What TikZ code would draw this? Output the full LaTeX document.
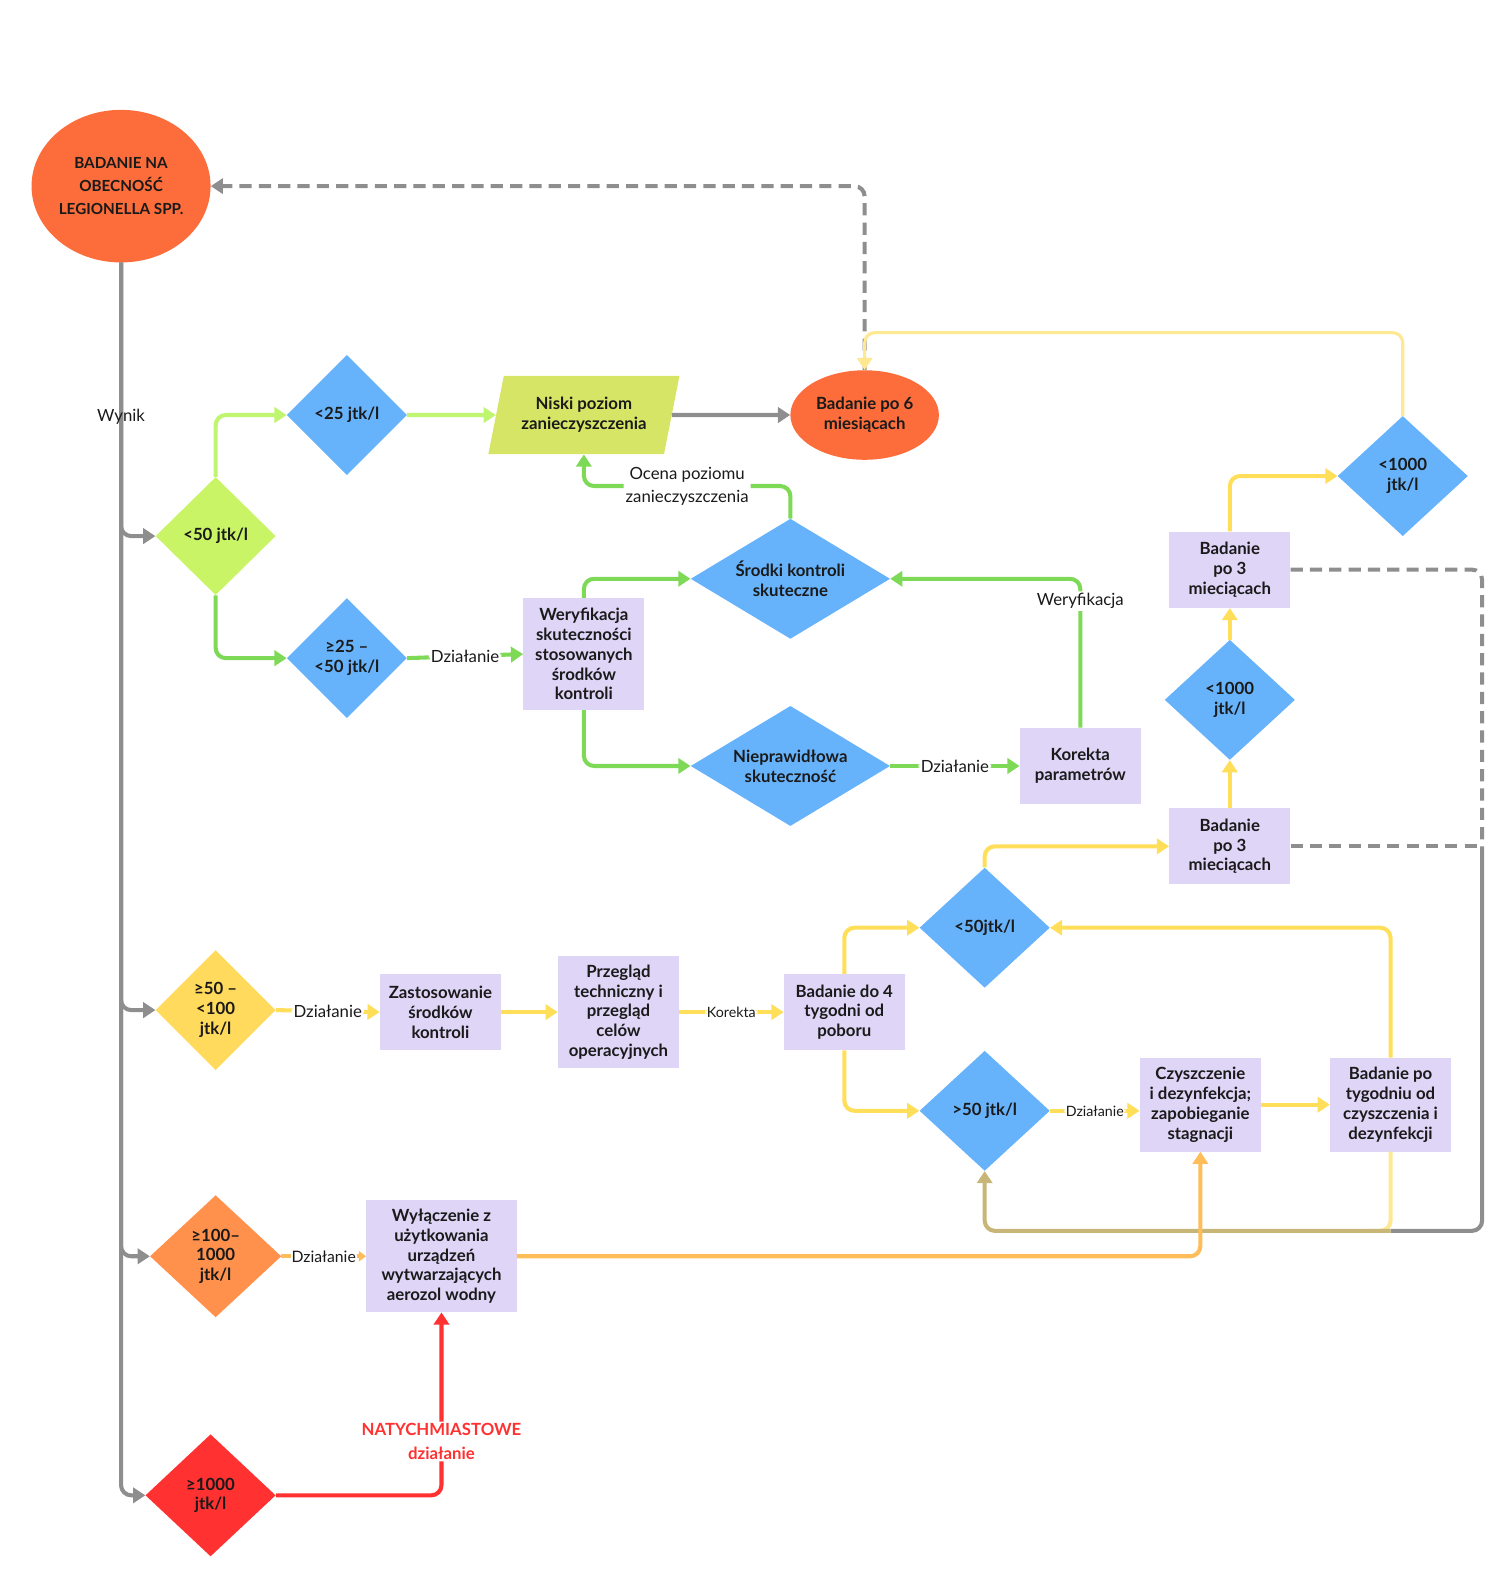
\documentclass[tikz,border=0pt]{standalone}
\usepackage{fontspec}
\setmainfont{Lato}
\usetikzlibrary{shapes.geometric,arrows.meta,calc}
\definecolor{orng}{HTML}{FC6D3B}
\definecolor{blu}{HTML}{66B3FC}
\definecolor{lav}{HTML}{DED5F7}
\definecolor{limec}{HTML}{C9F465}
\definecolor{parac}{HTML}{D6E565}
\definecolor{ydia}{HTML}{FFDA5C}
\definecolor{odia}{HTML}{FF914D}
\definecolor{rdia}{HTML}{FF3131}
\definecolor{gline}{HTML}{8E8E8E}
\definecolor{lgreen}{HTML}{BFF56F}
\definecolor{grn}{HTML}{7ED957}
\definecolor{yel}{HTML}{FFDE59}
\definecolor{paley}{HTML}{FFE892}
\definecolor{orl}{HTML}{FFBD59}
\definecolor{redl}{HTML}{FF3131}
\definecolor{khaki}{HTML}{C7B677}
\definecolor{txt}{HTML}{1A1A1A}
\newcommand\boxf{\fontsize{16.5}{19.5}\selectfont\bfseries}
\newcommand\ellf{\fontsize{15}{22.5}\selectfont\bfseries}
\newcommand\lblf{\fontsize{16.5}{23}\selectfont}
\newcommand\midf{\fontsize{15.5}{18}\selectfont}
\newcommand\smlf{\fontsize{14}{16}\selectfont}
\begin{document}
\begin{tikzpicture}[x=1pt,y=-1pt,
  tip/.tip={Triangle[length=12pt,width=15pt]},
  stip/.tip={Triangle[length=7pt,width=10pt]},
  conn/.style={line width=4pt, rounded corners=10pt, -tip},
  plain/.style={line width=4pt, rounded corners=10pt},
  boxn/.style={rectangle, fill=lav, text=txt, font=\boxf, align=center, inner sep=1pt},
  dia/.style={diamond, fill=blu, text=txt, font=\boxf, align=center, inner sep=0pt},
  lbl/.style={fill=white, text=txt, font=\lblf, inner sep=2pt, align=center},
  slbl/.style={fill=white, text=txt, font=\smlf, inner sep=1.5pt},
  dsh/.style={dash pattern=on 12pt off 7pt}]
\useasboundingbox (0,0) rectangle (1479,1568);

% nodes
\node[ellipse, fill=orng, minimum width=176pt, minimum height=150pt, inner xsep=-10pt, inner ysep=0pt, font=\ellf, align=center, text=txt] (start) at (119,183) {BADANIE NA\\OBECNOŚĆ\\LEGIONELLA SPP.};
\node[ellipse, fill=orng, minimum width=146pt, minimum height=88pt, inner sep=0pt, font=\boxf, align=center, text=txt] (bad6) at (850,408) {Badanie po 6\\miesiącach};
\node[trapezium, trapezium left angle=71, trapezium right angle=109, trapezium stretches=true, fill=parac, minimum width=188pt, minimum height=77pt, inner sep=0pt, font=\boxf, align=center, text=txt] (niski) at (574,408) {Niski poziom\\zanieczyszczenia};

\node[dia, fill=limec, aspect=1.02, minimum width=118pt, minimum height=116pt] (lt50) at (212,527) {<50 jtk/l};
\node[dia, minimum width=118pt, minimum height=118pt] (lt25) at (341,408) {<25 jtk/l};
\node[dia, minimum width=118pt, minimum height=118pt] (r25) at (341,647) {≥25 –\\<50 jtk/l};
\node[dia, aspect=1.66, minimum width=196pt, minimum height=118pt] (srodki) at (777,569) {Środki kontroli\\skuteczne};
\node[dia, aspect=1.66, minimum width=196pt, minimum height=118pt] (niepr) at (777,753) {Nieprawidłowa\\skuteczność};
\node[boxn, minimum width=119pt, minimum height=110pt] (wer) at (574,643) {Weryfikacja\\skuteczności\\stosowanych\\środków\\kontroli};
\node[boxn, minimum width=119pt, minimum height=75pt] (korekta) at (1062,753) {Korekta\\parametrów};

\node[dia, aspect=1.08, minimum width=128pt, minimum height=118pt] (d1000b) at (1379,468) {<1000\\jtk/l};
\node[boxn, minimum width=119pt, minimum height=75pt] (b3up) at (1209,560) {Badanie\\po 3\\mieciącach};
\node[dia, aspect=1.08, minimum width=128pt, minimum height=118pt] (d1000a) at (1209,688) {<1000\\jtk/l};
\node[boxn, minimum width=119pt, minimum height=75pt] (b3low) at (1209,832) {Badanie\\po 3\\mieciącach};
\node[dia, aspect=1.08, minimum width=128pt, minimum height=118pt] (d50a) at (968,912) {<50jtk/l};
\node[dia, aspect=1.08, minimum width=128pt, minimum height=118pt] (d50b) at (968,1092) {>50 jtk/l};
\node[boxn, minimum width=119pt, minimum height=92pt] (czysz) at (1180,1086) {Czyszczenie\\i dezynfekcja;\\zapobieganie\\stagnacji};
\node[boxn, minimum width=119pt, minimum height=92pt] (tyg) at (1367,1086) {Badanie po\\tygodniu od\\czyszczenia i\\dezynfekcji};

\node[dia, fill=ydia, minimum width=118pt, minimum height=118pt] (y50) at (212,993) {≥50 –\\<100\\jtk/l};
\node[boxn, minimum width=119pt, minimum height=75pt] (zast) at (433,995) {Zastosowanie\\środków\\kontroli};
\node[boxn, minimum width=119pt, minimum height=110pt] (przeg) at (608,995) {Przegląd\\techniczny i\\przegląd\\celów\\operacyjnych};
\node[boxn, minimum width=119pt, minimum height=75pt] (bad4) at (830,995) {Badanie do 4\\tygodni od\\poboru};

\node[dia, fill=odia, aspect=1.07, minimum width=129pt, minimum height=120pt] (o100) at (212,1235) {≥100–\\1000\\jtk/l};
\node[boxn, minimum width=148pt, minimum height=110pt] (wyl) at (434,1235) {Wyłączenie z\\użytkowania\\urządzeń\\wytwarzających\\aerozol wodny};
\node[dia, fill=rdia, aspect=1.07, minimum width=128pt, minimum height=120pt] (r1000) at (207,1470) {≥1000\\jtk/l};

\coordinate (ytop) at (0,327);
\coordinate (rx) at (1457,0);
\coordinate (bot) at (0,1210);

% gray trunk
\draw[conn, gline] (start.south) |- (lt50.west);
\draw[conn, gline] (start.south) |- (y50.west);
\draw[conn, gline] (start.south) |- (o100.west);
\draw[conn, gline] (start.south) |- (r1000.west);
\path (start.south) -- node[pos=0.125, font=\lblf, text=txt] {Wynik} (start.south |- r1000.west);

% dashed return
\draw[conn, gline, dsh] (bad6.north) |- (start.east);
\draw[conn, paley, line width=3pt] (d1000b.north) |- (ytop -| bad6.north) -- (bad6.north);
\draw[conn, gline] (niski.east) -- (bad6.west);

% green section
\draw[conn, lgreen] (lt50.north) |- (lt25.west);
\draw[conn, lgreen] (lt25.east) -- (niski.west);
\draw[conn, grn] (lt50.south) |- (r25.west);
\draw[conn, grn] (r25.east) -- node[lbl]{Działanie} (wer.west);
\draw[conn, grn] (wer.north) |- (srodki.west);
\draw[conn, grn] (wer.south) |- (niepr.west);
\draw[conn, grn] (niepr.east) -- node[lbl]{Działanie} (korekta.west);
\draw[conn, grn] (korekta.north) |- node[lbl, pos=0.425]{Weryfikacja} (srodki.east);
\draw[conn, grn] (srodki.north) -- ++(0,-32) -| node[lbl, pos=0.25]{Ocena poziomu\\zanieczyszczenia} (niski.south);

% yellow section
\draw[conn, yel] (y50.east) -- node[lbl]{Działanie} (zast.west);
\draw[conn, yel] (zast.east) -- (przeg.west);
\draw[conn, yel] (przeg.east) -- node[slbl]{Korekta} (bad4.west);
\draw[conn, yel] (bad4.north) |- (d50a.west);
\draw[conn, yel] (bad4.south) |- (d50b.west);
\draw[conn, yel] (d50a.north) |- (b3low.west);
\draw[conn, yel] (b3low.north) -- (d1000a.south);
\draw[conn, yel] (d1000a.north) -- (b3up.south);
\draw[conn, yel] (b3up.north) |- (d1000b.west);
\draw[conn, yel] (d50b.east) -- node[slbl]{Działanie} (d50b.east -| czysz.west);
\draw[conn, yel] (czysz.east) -- (tyg.west);
\draw[conn, yel] (tyg.north) |- (d50a.east);

% right gray loop
\draw[plain, gline, dsh] (b3up.east) -| (rx |- b3low.east);
\draw[plain, gline, dsh] (b3low.east) -- (rx |- b3low.east);
\draw[plain, gline] (rx |- b3low.east) |- (tyg.south |- bot);
\draw[plain, paley] (tyg.south) |- ($(tyg.south |- bot)+(-20,0)$);
\draw[conn, khaki] (tyg.south |- bot) -| (d50b.south);

% orange and red
\draw[line width=4pt, orl, -stip] (o100.east) -- node[fill=white, text=txt, font=\midf, inner sep=1pt]{Działanie} (wyl.west);
\draw[conn, orl] (wyl.east) -| (czysz.south);
\draw[conn, redl] (r1000.east) -| node[lbl, pos=0.647, text=redl, font=\lblf\bfseries]{NATYCHMIASTOWE\\działanie} (wyl.south);
\end{tikzpicture}
\end{document}
